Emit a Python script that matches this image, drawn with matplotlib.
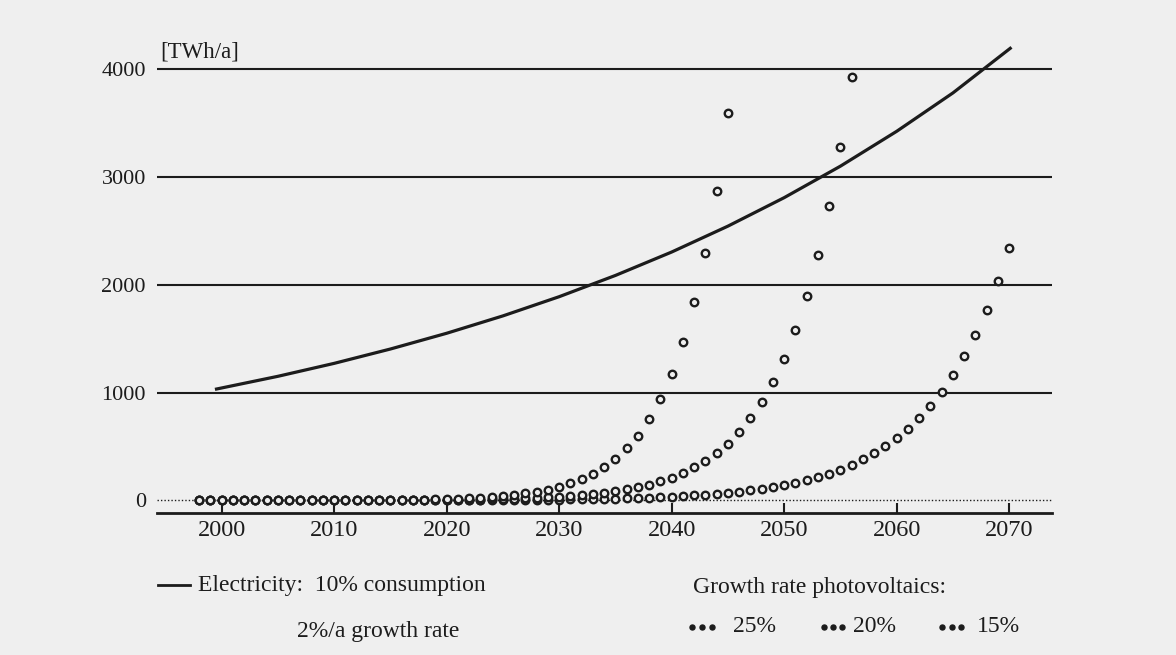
import matplotlib
matplotlib.use('Agg')
import matplotlib.pyplot as plt
from matplotlib.lines import Line2D

plt.rcParams['font.family'] = ['Liberation Serif', 'DejaVu Serif']

# electricity demand curve (10% of consumption, 2%/a growth)
elec_years = [1999.4, 2005, 2010, 2015, 2020, 2025, 2030, 2035, 2040, 2045, 2050, 2055, 2060, 2065, 2070.2]
elec_vals = [1030, 1151, 1271, 1404, 1550, 1711, 1889, 2086, 2303, 2543, 2807, 3099, 3422, 3778, 4200]

# photovoltaics, one dot per year
pv25_years = list(range(1998, 2046))
pv25_vals = [0, 0, 0, 0, 0, 0, 0, 0, 1, 1, 1, 1, 1, 2, 2, 3, 4, 4, 6, 7,
             9, 11, 14, 17, 21, 26, 33, 41, 52, 65, 81, 101, 126, 158, 197, 247, 308, 385,
             482, 602, 753, 941, 1176, 1470, 1838, 2297, 2872, 3590]

pv20_years = list(range(1998, 2057))
pv20_vals = [0, 0, 0, 0, 0, 0, 0, 0, 0, 1, 1, 1, 1, 1, 1, 2, 2, 2, 3, 3,
             4, 5, 5, 7, 8, 9, 11, 14, 16, 20, 24, 29, 34, 41, 49, 59, 71, 85,
             102, 123, 147, 177, 212, 255, 306, 367, 440, 528, 634, 761, 913, 1096,
             1315, 1578, 1893, 2272, 2726, 3272, 3926]

pv15_years = list(range(1998, 2071))
pv15_vals = [0, 0, 0, 0, 0, 0, 0, 0, 0, 0, 0, 0, 1, 1, 1, 1, 1, 1, 1, 1,
             2, 2, 2, 2, 3, 3, 4, 4, 5, 6, 6, 7, 9, 10, 11, 13, 15, 17, 20, 23,
             27, 31, 35, 41, 47, 54, 62, 71, 82, 94, 108, 124, 143, 164, 189, 217,
             250, 287, 330, 380, 437, 502, 577, 664, 764, 878, 1010, 1161, 1336,
             1536, 1766, 2031, 2336]

y_ticks = [0, 1000, 2000, 3000, 4000]
x_ticks = [2000, 2010, 2020, 2030, 2040, 2050, 2060, 2070]

bg = '#efefef'
ink = '#1c1c1c'
W, H = 1176, 655


def px(x, y):
    return x / W, 1 - y / H


fig = plt.figure(figsize=(W / 100, H / 100), dpi=100, facecolor=bg)
ax = fig.add_axes([157 / W, 1 - 513 / H, (1052 - 157) / W, (513 - 40) / H])
ax.set_facecolor(bg)

for v in y_ticks[1:]:
    ax.axhline(v, color=ink, lw=1.5, zorder=1)
ax.axhline(0, color=ink, lw=1.0, ls=(0, (1, 1.5)), zorder=1)

ax.plot(elec_years, elec_vals, color=ink, lw=2.3, solid_capstyle='butt', zorder=3, clip_on=False)

mk = dict(ls='none', marker='o', ms=5.4, mfc=bg, mec=ink, mew=1.7, zorder=4, clip_on=False)
ax.plot(pv15_years, pv15_vals, **mk)
ax.plot(pv20_years, pv20_vals, **mk)
ax.plot(pv25_years, pv25_vals, **mk)

ax.set_xlim(1994.25, 2073.8)
ax.set_ylim(-116, 4268)

for s in ['top', 'right', 'left']:
    ax.spines[s].set_visible(False)
ax.spines['bottom'].set_linewidth(2)
ax.spines['bottom'].set_color(ink)

ax.set_xticks(x_ticks)
ax.set_xticklabels([str(t) for t in x_ticks], fontsize=17.5, color=ink)
ax.tick_params(axis='x', direction='in', length=7, width=1.5, color=ink, pad=5)
ax.set_yticks(y_ticks)
ax.set_yticklabels([str(t) for t in y_ticks], fontsize=16, color=ink)
ax.tick_params(axis='y', length=0, pad=8)

fig.text(*px(160, 52), '[TWh/a]', fontsize=16.5, color=ink, va='center', ha='left')

# legend, drawn by hand as in the print
fig.add_artist(Line2D([158 / W, 190 / W], [1 - 585 / H] * 2, color=ink, lw=2, transform=fig.transFigure))
fig.text(*px(198, 585), 'Electricity:  10% consumption', fontsize=17, color=ink, va='center', ha='left')
fig.text(*px(297, 632), '2%/a growth rate', fontsize=17, color=ink, va='center', ha='left')
fig.text(*px(693, 587), 'Growth rate photovoltaics:', fontsize=17, color=ink, va='center', ha='left')

for dots_x, label, lx in [([692, 702, 712], '25%', 733),
                          ([824, 833, 842], '20%', 853),
                          ([942, 952, 961], '15%', 977)]:
    fig.add_artist(Line2D([d / W for d in dots_x], [1 - 627 / H] * 3, ls='none', marker='o',
                          ms=3.6, color=ink, transform=fig.transFigure))
    fig.text(*px(lx, 627), label, fontsize=17, color=ink, va='center', ha='left')

fig.savefig('out.png', dpi=100, facecolor=bg)
